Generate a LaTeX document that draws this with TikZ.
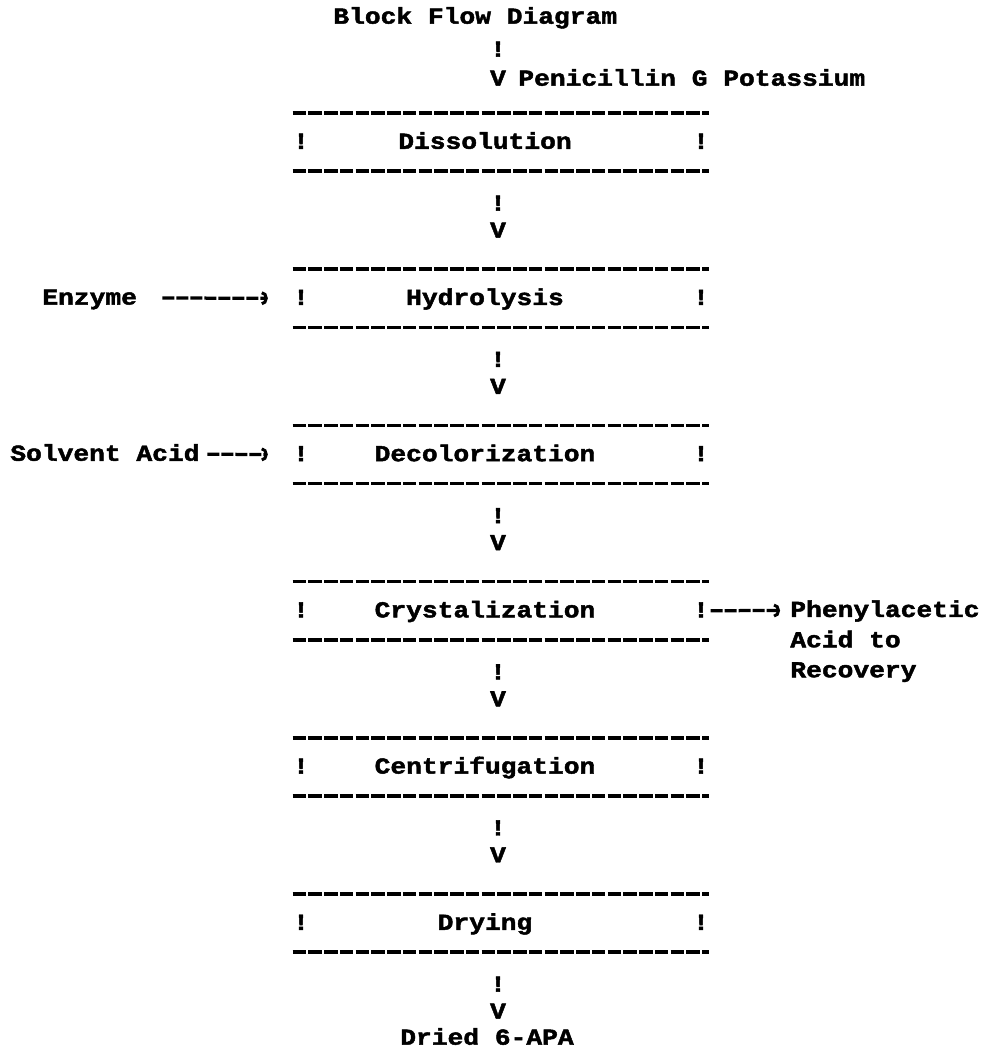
\documentclass[tikz,border=0pt]{standalone}
\usepackage{fontspec}
\setmonofont{Liberation Mono}[FakeStretch=1.15,BoldFeatures={FakeBold=2}]
\usetikzlibrary{arrows.meta,calc}

\tikzset{
  typed/.style={font=\ttfamily\bfseries\fontsize{13pt}{13pt}\selectfont,
    inner sep=0pt,text height=7.6pt,text depth=0pt},
  rule/.style={line width=0.75mm,dash pattern=on 2.7mm off 0.45mm},
  feed/.style={line width=0.65mm,dash pattern=on 2.4mm off 0.4mm,
    -{Arc Barb[length=1.2mm,width=2.8mm,line width=0.6mm]}},
}
% top rule of block #1
\newcommand{\blocky}[1]{113+156.2*(#1-1)}

\begin{document}
\begin{tikzpicture}[x=0.2mm,y=-0.2mm]
\useasboundingbox (0,0) rectangle (999,1052);

% Title and incoming stream.
\node[typed,anchor=west] (title) at (333,17) {Block Flow Diagram};
\node[typed] (bar0) at (498,50) {!};
\node[typed] (tip0) at (498,79) {V};
\node[typed,anchor=west] (penG) at (518,79) {Penicillin G Potassium};

% Process blocks, each followed by its down link.
\foreach \name [count=\k] in {Dissolution,Hydrolysis,Decolorization,Crystalization,Centrifugation,Drying}{
  \pgfmathsetmacro\ytop{\blocky{\k}}
  \node[minimum width=83.2mm,minimum height=11.5mm,inner sep=0pt,anchor=north] (box\k) at (501,\ytop) {};
  \draw[rule] (box\k.north west) -- (box\k.north east);
  \draw[rule] (box\k.south west) -- (box\k.south east);
  \node[typed] (wallL\k) at (box\k.center -| 301,0) {!};
  \node[typed] (wallR\k) at (box\k.center -| 701,0) {!};
  \node[typed] (stage\k) at (box\k.center -| 485,0) {\name};
  \node[typed] (bar\k) at (498,\ytop+91) {!};
  \node[typed] (tip\k) at (498,\ytop+118) {V};
}

\node[typed] (product) at (487,1038) {Dried 6-APA};

% Side streams.
\node[typed,anchor=west] (enzyme) at (42,{\blocky{2}+28.7}) {Enzyme};
\node[typed,anchor=west] (solvent) at (10,{\blocky{3}+28.7}) {Solvent Acid};
\node[typed,anchor=west] (phenyl) at (790,{\blocky{4}+28.7}) {Phenylacetic};
\node[typed,anchor=west] (acidto) at (790,{\blocky{4}+59}) {Acid to};
\node[typed,anchor=west] (recovery) at (790,{\blocky{4}+89}) {Recovery};

\draw[feed,shorten <=5mm,shorten >=5mm] (enzyme) -- (wallL2);
\draw[feed,shorten <=1.5mm,shorten >=5mm] (solvent) -- (wallL3);
\draw[feed,shorten <=0.3mm,shorten >=2mm] (wallR4) -- (phenyl);

\end{tikzpicture}
\end{document}
